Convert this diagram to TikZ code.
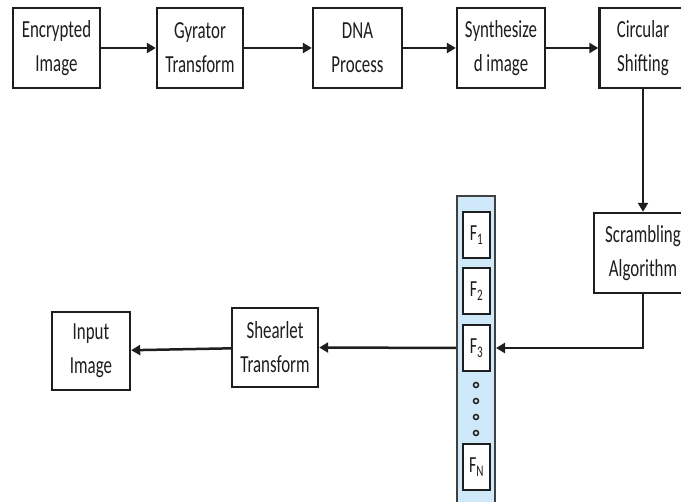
\documentclass[tikz,border=0pt]{standalone}
\usepackage{fontspec}
\setmainfont{Carlito}[FakeStretch=0.69]
\usetikzlibrary{arrows.meta}
\definecolor{colfill}{HTML}{CFE9FB}
\definecolor{inkc}{HTML}{1E1E1E}
\tikzset{
  stage/.style={draw=inkc, line width=2.4pt, minimum width=87pt, minimum height=80pt,
    inner sep=0pt, align=center, text=inkc, font=\fontsize{24.5}{34}\selectfont},
  fbox/.style={draw=inkc, fill=white, line width=2pt, minimum width=27pt,
    minimum height=46pt, inner sep=0pt, text=inkc, font=\fontsize{23}{24}\selectfont},
  flow/.style={draw=inkc, line width=2.5pt, -{Triangle[length=9pt,width=10pt]}},
  dotc/.style={circle, draw=inkc, line width=1.5pt, minimum size=5pt, inner sep=0pt}
}
\begin{document}
\begin{tikzpicture}[x=1pt,y=-1pt]
  \useasboundingbox (0,0) rectangle (681,502);
  \clip (0,0) rectangle (681,502);
  \fill[white] (0,0) rectangle (681,502);

  % top row of processing stages
  \node[stage] (enc) at (56.5,48) {Encrypted\\Image};
  \node[stage, minimum width=86pt] (gyr) at (200,48) {Gyrator\\Transform};
  \node[stage, minimum width=89pt] (dna) at (357.5,48) {DNA\\Process};
  \node[stage, minimum width=88pt] (syn) at (501,48) {Synthesize\\d image};
  \node[stage] (cir) at (643,48) {Circular\\Shifting};

  % scrambling stage
  \node[stage, minimum width=98pt] (scr) at (643,253) {Scrambling\\Algorithm};

  % filter bank column
  \node[draw=inkc!85, fill=colfill, line width=2pt, minimum width=38pt,
        minimum height=330pt, anchor=north, inner sep=0pt] (col) at (476,195) {};
  \node[fbox] (f1) at (476.5,235) {F\textsubscript{1}};
  \node[fbox] (f2) at (476.5,291) {F\textsubscript{2}};
  \node[fbox] (f3) at (476.5,348) {F\textsubscript{3}};
  \node[fbox] (fn) at (476.5,467) {F\textsubscript{N}};
  \node[dotc] (d1) at (476,385) {};
  \node[dotc] (d2) at (476,401) {};
  \node[dotc] (d3) at (476,417) {};
  \node[dotc] (d4) at (476,433) {};

  % bottom row
  \node[stage, minimum width=86pt, minimum height=79pt] (shr) at (275,347.5) {Shearlet\\Transform};
  \node[stage, minimum width=78pt, minimum height=78pt] (inp) at (91,351) {Input\\Image};

  % connectors
  \draw[flow] (enc) -- (gyr);
  \draw[flow] (gyr) -- (dna);
  \draw[flow] (dna) -- (syn);
  \draw[flow] (syn) -- (cir);
  \draw[flow] (cir) -- (scr);
  \draw[flow] (scr.south) |- (col.east |- f3);
  \draw[flow] (col.west |- f3) -- (shr.east);
  \draw[flow] (shr) -- (inp);
\end{tikzpicture}
\end{document}
